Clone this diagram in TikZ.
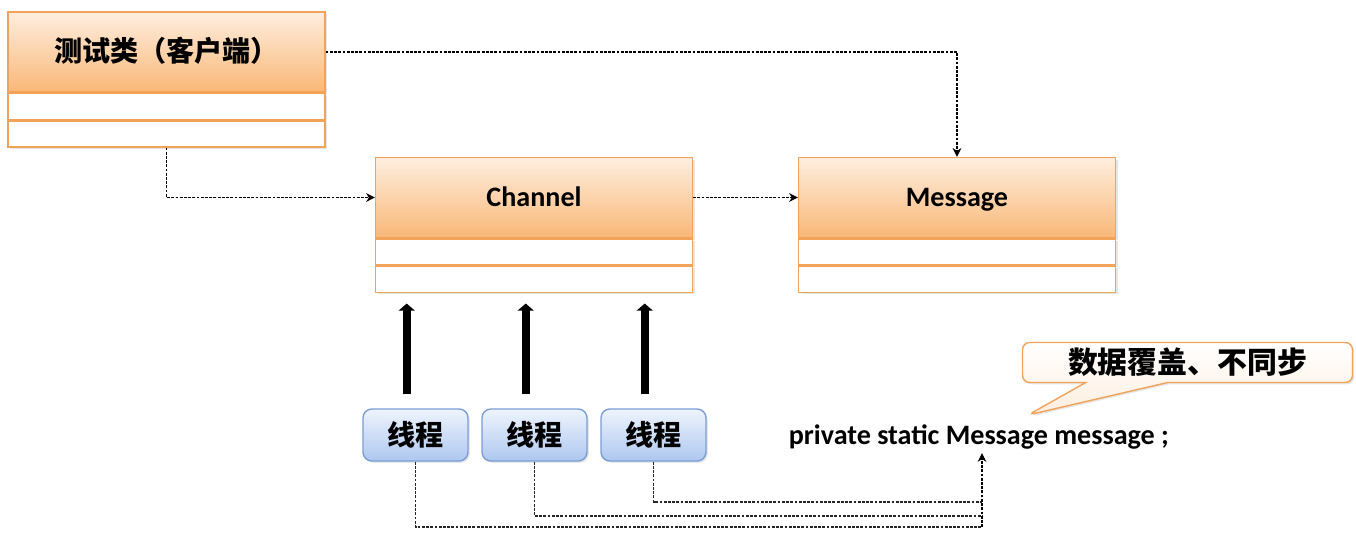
\documentclass[tikz,border=0pt]{standalone}
\usepackage{fontspec}
\setmainfont{Carlito}
\newfontfamily\cjk{Noto Sans CJK SC}
\usetikzlibrary{
    arrows.meta,     % For arrow styles
    positioning,     % For relative positioning of nodes (e.g., below=of)
    shapes.callouts, % For the speech bubble
    shadows          % For the soft shadow under the boxes
}
\definecolor{boxline}{HTML}{F2A35A}
\definecolor{headtop}{HTML}{FEEEDF}
\definecolor{headbot}{HTML}{F9B877}
\definecolor{threadtop}{HTML}{EEF4FD}
\definecolor{threadbot}{HTML}{AEC7EF}
\definecolor{threadline}{HTML}{7B9DD5}
\tikzset{
    % Style for the class name part of a class box
    classhead/.style={
        draw=boxline,
        line width=0.8pt,
        rectangle,
        top color=headtop,
        bottom color=headbot,
        minimum width=6.34cm,
        minimum height=1.6cm,
        inner sep=0pt,
        text height=10.5pt,
        text depth=0pt,
        font=\fontsize{16}{19}\selectfont\bfseries,
        drop shadow={opacity=0.2, shadow xshift=1.2pt, shadow yshift=-1.2pt}
    },
    % Style for the empty compartments below the name
    classpart/.style={
        draw=boxline,
        line width=0.8pt,
        rectangle,
        fill=white,
        minimum width=6.34cm,
        minimum height=0.52cm,
        inner sep=0pt,
        drop shadow={opacity=0.2, shadow xshift=1.2pt, shadow yshift=-1.2pt}
    },
    % Style for the thread boxes
    thread/.style={
        draw=threadline,
        line width=0.8pt,
        rectangle,
        rounded corners=5pt,
        top color=threadtop,
        bottom color=threadbot,
        minimum width=2.1cm,
        minimum height=1.04cm,
        inner sep=0pt,
        font=\cjk\fontsize{16}{19}\selectfont\bfseries,
        drop shadow={opacity=0.2, shadow xshift=1pt, shadow yshift=-1pt}
    },
    % Style for the field declaration
    field/.style={
        inner sep=2pt,
        font=\fontsize{16}{19}\selectfont\bfseries
    },
    % Style for the speech bubble
    note/.style={
        rectangle callout,
        draw=boxline,
        line width=0.8pt,
        rounded corners=4pt,
        top color=white,
        bottom color=headtop,
        minimum width=6.6cm,
        minimum height=0.8cm,
        inner sep=0pt,
        callout pointer width=1.64cm,
        font=\cjk\fontsize{17}{20}\selectfont\bfseries,
        drop shadow={opacity=0.2, shadow xshift=1pt, shadow yshift=-1pt}
    },
    % Style for the dashed dependency arrows
    link/.style={
        draw=black,
        line width=0.7pt,
        dash pattern=on 1.6pt off 0.8pt,
        -{Stealth[length=5pt,width=5pt]}
    },
    % Style for the dashed lines without a tip
    trace/.style={
        draw=black!85,
        line width=0.7pt,
        dash pattern=on 1.6pt off 0.8pt
    },
    % Style for the thick access arrows
    push/.style={
        line width=4.5pt,
        shorten <=8pt,
        shorten >=6pt,
        -{Triangle[length=4pt,width=9pt]}
    }
}

\begin{document}
\begin{tikzpicture}[x=0.02cm, y=-0.02cm]
    \useasboundingbox (0,0) rectangle (1356,535);

    % --- Class boxes ---
    \node (client)       [classhead] at (166.5,52) {\cjk\bfseries 测试类（客户端）};
    \node (client_attr)  [classpart, below=0pt of client] {};
    \node (client_ops)   [classpart, below=0pt of client_attr] {};

    \node (channel)      [classhead] at (534,197.5) {Channel};
    \node (channel_attr) [classpart, below=0pt of channel] {};
    \node (channel_ops)  [classpart, below=0pt of channel_attr] {};

    \node (message)      [classhead] at (957,197.5) {Message};
    \node (message_attr) [classpart, below=0pt of message] {};
    \node (message_ops)  [classpart, below=0pt of message_attr] {};

    % --- Threads ---
    \node (thread_a) [thread] at (415.5,435) {线程};
    \node (thread_b) [thread] at (534.5,435) {线程};
    \node (thread_c) [thread] at (653.5,435) {线程};

    % --- Shared field and note ---
    \node (field) [field, anchor=west] at (785,437) {private static Message message ;};
    \node (note)  [note, callout absolute pointer={(1028,415)}] at (1187.5,362.5) {数据覆盖、不同步};

    % --- Dependencies ---
    \draw [link] (client.east) -| (message.north);
    \draw [link] (client_ops.south) |- (channel.west);
    \draw [link] (channel) -- (message);

    % --- Threads use the channel ---
    \draw [push] ([xshift=-5pt]thread_a.north) -- ([xshift=-5pt]thread_a.north |- channel_ops.south);
    \draw [push] ([xshift=-5pt]thread_b.north) -- ([xshift=-5pt]thread_b.north |- channel_ops.south);
    \draw [push] ([xshift=-5pt]thread_c.north) -- ([xshift=-5pt]thread_c.north |- channel_ops.south);

    % --- Threads all reach the same field ---
    \coordinate (join_a) at (982,527);
    \coordinate (join_b) at (982,516);
    \coordinate (join_c) at (982,502);
    \draw [trace] (thread_a.south) |- (join_a);
    \draw [trace] (thread_b.south) |- (join_b);
    \draw [trace] (thread_c.south) |- (join_c);
    \draw [link] (join_a) -- (join_a |- field.south);
\end{tikzpicture}
\end{document}
